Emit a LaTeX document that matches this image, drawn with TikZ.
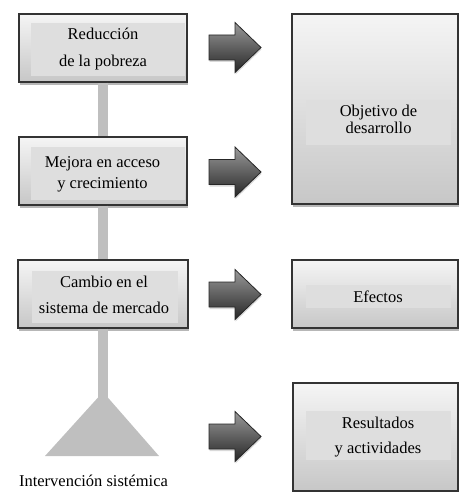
\documentclass[tikz,border=0pt]{standalone}
\usepackage{fontspec}
\setmainfont{Liberation Serif}
\usetikzlibrary{shadows}
\tikzset{
  outerbox/.style={rectangle, draw=black!80, line width=1.3pt, inner sep=0pt,
    top color=white!96!black, middle color=white, bottom color=black!22,
    drop shadow={shadow xshift=0.5pt, shadow yshift=-3pt, opacity=0.4, fill=black!70}},
  innerbox/.style={rectangle, fill=black!13, draw=none, inner sep=0pt},
  label/.style={inner sep=0pt, align=center, text=black},
  blockarrow/.style={draw=black!85, line width=0.8pt, line join=miter,
    top color=black!40, bottom color=black!85,
    drop shadow={shadow xshift=0.5pt, shadow yshift=-2pt, opacity=0.25, fill=black!60}},
  bar/.style={line width=10pt, draw=black!25},
  basetri/.style={fill=black!25, draw=none}
}
\begin{document}
\begin{tikzpicture}[x=1pt,y=-1pt]
\useasboundingbox (0,0) rectangle (460,492);

% left boxes
\node[outerbox, minimum width=168pt, minimum height=68pt] (b1) at (103,48) {};
\node[outerbox, minimum width=168pt, minimum height=68pt] (b2) at (103,171) {};
\node[outerbox, minimum width=170pt, minimum height=68pt] (b3) at (103,294) {};

% connector bar and triangle
\coordinate (apex) at (103,392);
\coordinate (apexin) at (103,400);
\draw[bar] (b1.south) -- (b2.north);
\draw[bar] (b2.south) -- (b3.north);
\draw[bar] (b3.south) -- (apexin);
\path[basetri] (apex) -- (159,456) -- (45,456) -- cycle;

% right boxes
\node[outerbox, minimum width=166pt, minimum height=190pt] (o1) at (375,109) {};
\node[outerbox, minimum width=166pt, minimum height=68pt] (o2) at (375,294) {};
\node[outerbox, minimum width=165pt, minimum height=108pt] (o3) at (375.5,437) {};

% inner rects
\node[innerbox, minimum width=154pt, minimum height=53pt] (r1) at (108,50) {};
\node[innerbox, minimum width=154pt, minimum height=53pt] (r2) at (108,173) {};
\node[innerbox, minimum width=146pt, minimum height=52pt] (r3) at (104.7,297) {};
\node[innerbox, minimum width=145pt, minimum height=45pt] (r4) at (378.5,122.5) {};
\node[innerbox, minimum width=145pt, minimum height=23pt] (r5) at (378.5,296.5) {};
\node[innerbox, minimum width=145pt, minimum height=49pt] (r6) at (378.5,435.5) {};

% texts
\node[label, font=\fontsize{16.5}{27}\selectfont] (t1) at (103,49) {Reducción\\de la pobreza};
\node[label, font=\fontsize{16.5}{21}\selectfont] (t2) at (102.5,174.6) {Mejora en acceso\\y crecimiento};
\node[label, font=\fontsize{16.5}{26}\selectfont] (t3) at (104,294.4) {Cambio en el\\sistema de mercado};
\node[label, font=\fontsize{16.5}{17}\selectfont] (t4) at (378.5,119.4) {Objetivo de\\desarrollo};
\node[label, font=\fontsize{16.5}{20}\selectfont] (t5) at (378,296.4) {Efectos};
\node[label, font=\fontsize{16.5}{25}\selectfont] (t6) at (378,436.6) {Resultados\\y actividades};
\node[label, font=\fontsize{16.5}{20}\selectfont, anchor=base] (t7) at (93.5,486) {Intervención sistémica};

% block arrows
\foreach \cy in {47.5,172,294.5,436.5}{
  \path[blockarrow] (209,\cy-12.5) -- (235,\cy-12.5) -- (235,\cy-25) -- (261,\cy)
    -- (235,\cy+25) -- (235,\cy+12.5) -- (209,\cy+12.5) -- cycle;
}
\end{tikzpicture}
\end{document}
